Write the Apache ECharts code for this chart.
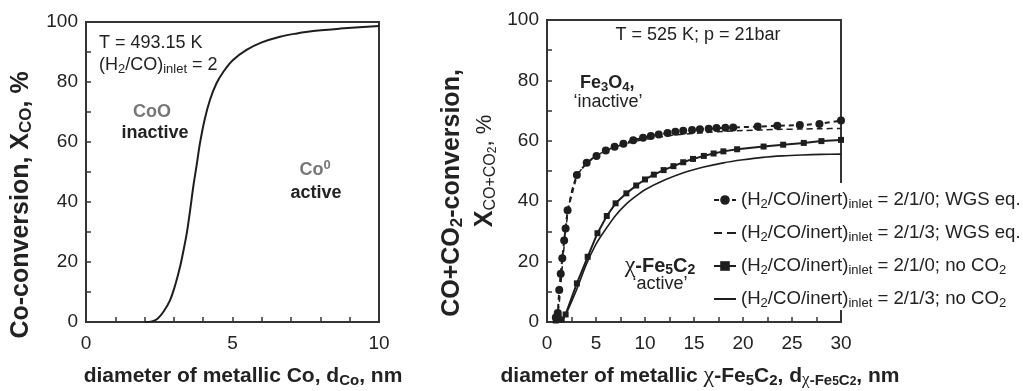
<!DOCTYPE html>
<html><head><meta charset="utf-8">
<script src="https://cdn.jsdelivr.net/npm/echarts@6/dist/echarts.min.js"></script>
<style>html,body{margin:0;padding:0;background:#fff}#c{width:1023px;height:391px}</style>
</head><body><div id="c"></div>
<script>
// ---- data ----
const leftXTicks = [0, 5, 10];
const leftYTicks = [0, 20, 40, 60, 80, 100];
const rightXTicks = [0, 5, 10, 15, 20, 25, 30];
const rightYTicks = [0, 20, 40, 60, 80, 100];

// left: Co conversion vs Co diameter
const coD = [2.0, 2.25, 2.45, 2.65, 2.87, 3.05, 3.21, 3.33, 3.44, 3.55, 3.66, 3.78, 3.89, 4.05, 4.23, 4.45, 4.69, 5.0, 5.48, 6.0, 6.62, 7.2, 7.75, 8.67, 10];
const coX = [0, 0.2, 1.2, 3.5, 7.3, 12.5, 18.4, 24, 29.6, 37, 45, 52.5, 59.6, 67.5, 74, 79.5, 83.4, 87.2, 90.7, 93.2, 95.1, 96.2, 97.0, 97.8, 98.7];

// right: four cases
const wgs210D = [0.9, 1.1, 1.25, 1.4, 1.56, 1.75, 1.9, 2.1, 3.05, 4.05, 5.05, 6.0, 6.9, 7.8, 8.8, 9.8, 10.6, 11.4, 12.3, 13.1, 13.9, 14.8, 15.6, 16.5, 17.3, 18.2, 19.0, 21.5, 23.5, 25.8, 27.8, 30];
const wgs210X = [1.5, 3.0, 10.6, 16, 21.1, 27, 31, 37, 48.7, 52.7, 55.0, 56.8, 58.0, 59.0, 60.2, 61.0, 61.6, 62.1, 62.6, 63.0, 63.3, 63.6, 63.8, 64.0, 64.2, 64.3, 64.4, 64.7, 65.0, 65.2, 65.6, 66.7];
const wgs213D = [1.0, 1.3, 1.6, 2.0, 2.5, 3, 4, 5, 6, 7, 8, 9, 10, 12, 14, 16, 18, 20, 22, 24, 26, 28, 30];
const wgs213X = [0, 8, 20, 33, 43, 48, 52.5, 55, 56.7, 58, 59, 59.8, 60.5, 61.5, 62.2, 62.7, 63.1, 63.4, 63.6, 63.8, 63.9, 64.0, 64.1];
const noco210D = [0.9, 1.2, 1.5, 1.9, 3.05, 4.15, 5.15, 6.1, 7.0, 8.1, 9.1, 10.0, 10.9, 11.9, 12.9, 13.9, 14.9, 16.0, 17.0, 18.0, 19.4, 22.1, 24.1, 26.2, 28.0, 30];
const noco210X = [0.5, 1.5, 0.8, 2.5, 12.8, 21.6, 29.4, 35.1, 39.3, 42.6, 45.2, 47.2, 48.8, 50.3, 51.6, 52.9, 54.0, 55.0, 55.8, 56.5, 57.2, 58.1, 58.7, 59.3, 59.9, 60.3];
const noco213D = [1.5, 2, 3, 4, 5, 6, 7, 8, 9, 10, 12, 14, 16, 18, 20, 22, 24, 26, 28, 30];
const noco213X = [0, 3, 10.5, 19, 25.8, 30.8, 35.3, 38.8, 41.5, 43.8, 47.0, 49.5, 51.3, 52.7, 53.7, 54.5, 55.0, 55.3, 55.5, 55.6];

const seriesNames = [
  '(H2/CO/inert)inlet = 2/1/0; WGS eq.',
  '(H2/CO/inert)inlet = 2/1/3; WGS eq.',
  '(H2/CO/inert)inlet = 2/1/0; no CO2',
  '(H2/CO/inert)inlet = 2/1/3; no CO2'
];
const seriesLabels = [
  '(H{s|2}/CO/inert){s|inlet} = 2/1/0; WGS eq.',
  '(H{s|2}/CO/inert){s|inlet} = 2/1/3; WGS eq.',
  '(H{s|2}/CO/inert){s|inlet} = 2/1/0; no CO{s|2}',
  '(H{s|2}/CO/inert){s|inlet} = 2/1/3; no CO{s|2}'
];

// ---- chart ----
const FF = 'Liberation Sans, Arial, Helvetica, sans-serif';
const SERIF = 'Liberation Serif, Times New Roman, serif';
const INK = '#1e1e1e';
const FRAME = '#353535';
const zip = (a, b) => a.map((v, i) => [v, b[i]]);

function axisCommon(ticks, minorSplit, margin) {
  return {
    type: 'value', min: ticks[0], max: ticks[ticks.length - 1], interval: ticks[1] - ticks[0],
    axisLine: {show: true, onZero: false, lineStyle: {color: FRAME, width: 2}},
    axisTick: {show: true, inside: true, length: 5, lineStyle: {color: FRAME, width: 1.5}},
    minorTick: {show: true, splitNumber: minorSplit, length: 5, lineStyle: {color: FRAME, width: 1.5}},
    splitLine: {show: false},
    axisLabel: {fontFamily: FF, fontSize: 19, color: '#222', margin: margin}
  };
}

const subS = {fontSize: 13, lineHeight: 12, verticalAlign: 'bottom'};

function txt(x, y, text, o) {
  o = o || {};
  return {
    type: 'text', x: x, y: y, rotation: o.rot || 0, z: 20,
    style: Object.assign({
      text: text, fontFamily: FF, fontSize: 18, fontWeight: 'normal', fill: '#222',
      align: 'center', verticalAlign: 'middle', lineHeight: 22,
      rich: {
        s: {fontSize: 13, lineHeight: 12, verticalAlign: 'bottom', fontWeight: o.subWeight || o.fontWeight || 'normal', fill: o.fill || '#222'},
        sup: {fontSize: 13, lineHeight: 12, verticalAlign: 'top', fontWeight: 'bold', fill: o.fill || '#222'}
      }
    }, o.style || {}, o.fontWeight ? {fontWeight: o.fontWeight} : {}, o.fill ? {fill: o.fill} : {})
  };
}

const solidIcon = 'path://M0,0H22V2H0Z';
const dashIcon = 'path://M0,0H8V2H0ZM13,0H22V2H13Z';

const chart = echarts.init(document.getElementById('c'), null, {renderer: 'canvas'});
chart.setOption({
  animation: false,
  backgroundColor: '#fff',
  grid: [
    {left: 86, top: 22, width: 293, height: 300, show: true, borderColor: FRAME, borderWidth: 2, backgroundColor: 'transparent'},
    {left: 547, top: 20, width: 294, height: 302, show: true, borderColor: FRAME, borderWidth: 2, backgroundColor: 'transparent'}
  ],
  xAxis: [
    Object.assign(axisCommon(leftXTicks, 5, 12), {gridIndex: 0}),
    Object.assign(axisCommon(rightXTicks, 2, 12), {gridIndex: 1})
  ],
  yAxis: [
    Object.assign(axisCommon(leftYTicks, 2, 8), {gridIndex: 0}),
    Object.assign(axisCommon(rightYTicks, 2, 8), {gridIndex: 1})
  ],
  legend: {
    orient: 'vertical', left: 705, top: 183, padding: [6, 4, 0, 8],
    backgroundColor: '#fff', itemGap: 11, itemWidth: 22, itemHeight: 12,
    selectedMode: false, z: 10, symbolKeepAspect: true,
    data: [
      {name: seriesNames[0]},
      {name: seriesNames[1], icon: dashIcon},
      {name: seriesNames[2]},
      {name: seriesNames[3], icon: solidIcon}
    ],
    textStyle: {fontFamily: FF, fontSize: 18.6, color: '#222', lineHeight: 22, rich: {s: subS}},
    formatter: n => seriesLabels[seriesNames.indexOf(n)]
  },
  series: [
    {type: 'line', name: 'left', xAxisIndex: 0, yAxisIndex: 0, data: zip(coD, coX), smooth: 0.35,
      symbol: 'none', lineStyle: {color: INK, width: 2}},
    {type: 'line', name: seriesNames[0], xAxisIndex: 1, yAxisIndex: 1, data: zip(wgs210D, wgs210X),
      symbol: 'circle', symbolSize: 8, itemStyle: {color: INK}, lineStyle: {color: INK, width: 2, type: [5, 4]}},
    {type: 'line', name: seriesNames[1], xAxisIndex: 1, yAxisIndex: 1, data: zip(wgs213D, wgs213X), smooth: 0.3,
      symbol: 'none', itemStyle: {color: INK}, lineStyle: {color: INK, width: 1.5, type: [6, 4]}},
    {type: 'line', name: seriesNames[2], xAxisIndex: 1, yAxisIndex: 1, data: zip(noco210D, noco210X),
      symbol: 'rect', symbolSize: 6, itemStyle: {color: INK}, lineStyle: {color: INK, width: 2}},
    {type: 'line', name: seriesNames[3], xAxisIndex: 1, yAxisIndex: 1, data: zip(noco213D, noco213X), smooth: 0.3,
      symbol: 'none', itemStyle: {color: INK}, lineStyle: {color: INK, width: 1.6}}
  ],
  graphic: [
    // axis titles
    txt(21, 205, 'Co-conversion, X{s|CO}, %', {rot: Math.PI / 2, fontWeight: 'bold', style: {fontSize: 25, lineHeight: 28, rich: {s: {fontSize: 17, lineHeight: 16, verticalAlign: 'bottom', fontWeight: 'bold', fill: '#222'}}}}),
    txt(243, 376, 'diameter of metallic Co, d{s|Co}, nm', {fontWeight: 'bold', style: {fontSize: 21, lineHeight: 24, rich: {s: {fontSize: 15, lineHeight: 14, verticalAlign: 'bottom', fontWeight: 'bold', fill: '#222'}}}}),
    txt(452, 193, 'CO+CO{s|2}-conversion,', {rot: Math.PI / 2, fontWeight: 'bold', style: {fontSize: 25, lineHeight: 28, rich: {s: {fontSize: 17, lineHeight: 16, verticalAlign: 'bottom', fontWeight: 'bold', fill: '#222'}}}}),
    txt(485, 171, '{b|X}{s|CO+CO}{ss|2}{n|, %}', {rot: Math.PI / 2, style: {fontSize: 24, lineHeight: 28, rich: {
      b: {fontSize: 25, fontWeight: 'bold', fill: '#222'},
      s: {fontSize: 16, lineHeight: 14, verticalAlign: 'bottom', fill: '#222'},
      ss: {fontSize: 12, lineHeight: 8, verticalAlign: 'bottom', fill: '#222'},
      n: {fontSize: 22, fill: '#222'}}}}),
    txt(700, 376, 'diameter of metallic {chi|χ}-Fe{s|5}C{s|2}, d{schi|χ}{s|-Fe}{ss|5}{s|C}{ss|2}, nm', {fontWeight: 'bold', style: {fontSize: 21, lineHeight: 24, rich: {
      chi: {fontFamily: SERIF, fontSize: 24, fontWeight: 'normal', fill: '#222'},
      s: {fontSize: 15, lineHeight: 14, verticalAlign: 'bottom', fontWeight: 'bold', fill: '#222'},
      schi: {fontFamily: SERIF, fontSize: 17, lineHeight: 14, verticalAlign: 'bottom', fill: '#222'},
      ss: {fontSize: 12, lineHeight: 9, verticalAlign: 'bottom', fontWeight: 'bold', fill: '#222'}}}}),
    // left annotations
    txt(99, 43, 'T = 493.15 K', {style: {align: 'left'}}),
    txt(99, 65, '(H{s|2}/CO){s|inlet} = 2', {style: {align: 'left'}}),
    txt(152, 112, 'CoO', {fontWeight: 'bold', fill: '#777'}),
    txt(155, 133, 'inactive', {fontWeight: 'bold'}),
    txt(315, 170, 'Co{sup|0}', {fontWeight: 'bold', fill: '#777'}),
    txt(316, 193, 'active', {fontWeight: 'bold'}),
    // right annotations
    txt(698, 35, 'T = 525 K; p = 21bar'),
    txt(580, 83, 'Fe{s|3}O{s|4},', {fontWeight: 'bold', style: {align: 'left'}}),
    txt(608, 102, '\u2018inactive\u2019'),
    txt(660, 266, '{chi|χ}-Fe{s|5}C{s|2}', {fontWeight: 'bold', style: {fontSize: 20, rich: {
      chi: {fontFamily: SERIF, fontSize: 24, fontWeight: 'normal', fill: '#222'},
      s: {fontSize: 14, lineHeight: 12, verticalAlign: 'bottom', fontWeight: 'bold', fill: '#222'}}}}),
    txt(660, 284, '\u2018active\u2019')
  ]
});
</script>
</body></html>
